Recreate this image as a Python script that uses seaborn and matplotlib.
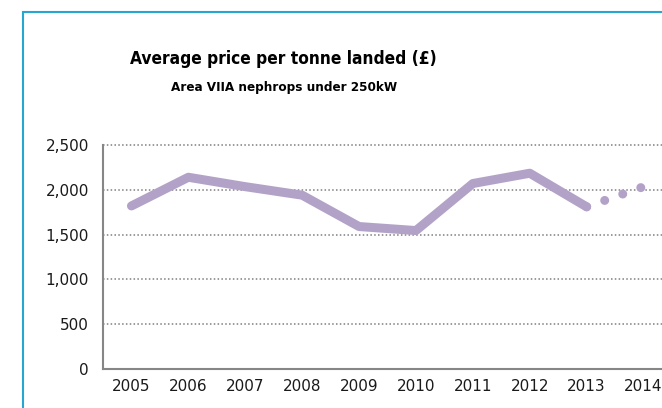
import seaborn as sns
import matplotlib.pyplot as plt
import pandas as pd
from matplotlib.patches import Rectangle
from matplotlib.ticker import FuncFormatter, FixedLocator

## Average price per tonne landed, Area VIIA nephrops under 250kW
years = ['2005', '2006', '2007', '2008', '2009', '2010', '2011', '2012', '2013', '2014']
price = [1820, 2140, 2035, 1940, 1590, 1545, 2070, 2185, 1810, 2035]

line_col = '#b3a2c7'
grey = '#868686'

sns.set_style('white')
plt.rcParams['font.family'] = ['DejaVu Sans']

df = pd.DataFrame({'year': years, 'price': price})
df['pos'] = range(len(df))

fig = plt.figure(figsize=(6.62, 4.08), dpi=100)
ax = fig.add_axes([103/662, 1 - 369/408, 569/662, 224/408])

# actual values up to 2013, then the projected bit dotted
sns.lineplot(data=df.iloc[:9], x='pos', y='price', ax=ax, color=line_col,
             linewidth=6.5, solid_capstyle='round')
sns.lineplot(data=df.iloc[8:], x='pos', y='price', ax=ax, color=line_col,
             linewidth=6.5)
dots = ax.get_lines()[-1]
dots.set_linestyle((0, (0.001, 2.12)))
dots.set_dash_capstyle('round')
dots.set_clip_on(False)

ax.set_xlim(-0.5, 9.5)
ax.set_ylim(0, 2500)
ax.set_yticks(range(0, 2501, 500))
ax.yaxis.set_major_formatter(FuncFormatter(lambda v, p: f'{int(v):,}'))
ax.set_xticks(df['pos'])
ax.set_xticklabels(years)
ax.xaxis.set_minor_locator(FixedLocator([i - 0.5 for i in range(11)]))
ax.set_xlabel('')
ax.set_ylabel('')

ax.tick_params(axis='x', which='major', length=0, pad=7, labelsize=11, labelcolor='#1a1a1a')
ax.tick_params(axis='x', which='minor', length=5, width=1.5, color=grey, direction='out')
ax.tick_params(axis='y', length=4, width=1.5, color=grey, direction='out', pad=6,
               labelsize=11, labelcolor='#1a1a1a')

ax.yaxis.grid(True, linestyle=(0, (1, 1.5)), color='#7f7f7f', linewidth=1.1)
for gl in ax.get_ygridlines():
    gl.set_clip_on(False)
ax.set_axisbelow(True)
for s in ['top', 'right']:
    ax.spines[s].set_visible(False)
for s in ['left', 'bottom']:
    ax.spines[s].set_color(grey)
    ax.spines[s].set_linewidth(1.5)

# chart border (cut off at right and bottom)
fig.add_artist(Rectangle((23/662, -0.1), 1.2, 1 - 12/408 + 0.1, transform=fig.transFigure,
                         fill=False, edgecolor='#26a7d1', linewidth=1.5))

fig.text(283/662, 1 - 59/408, 'Average price per tonne landed (£)', ha='center', va='center',
         fontsize=12.4, fontweight='bold', fontstretch='condensed', color='black')
fig.text(284/662, 1 - 87/408, 'Area VIIA nephrops under 250kW', ha='center', va='center',
         fontsize=9.6, fontweight='bold', fontstretch='condensed', color='black')

fig.savefig('out.png', dpi=100)
